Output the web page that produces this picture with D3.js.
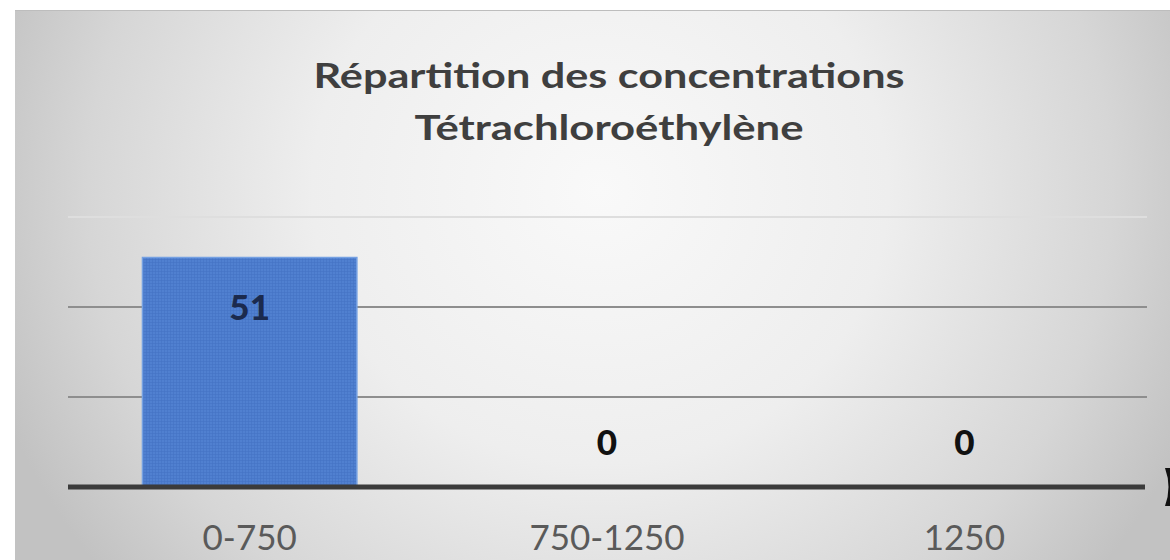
<!DOCTYPE html>
<html>
<head>
<meta charset="utf-8">
<script src="https://cdn.jsdelivr.net/npm/d3@7"></script>
<style>
  body { margin: 0; background: #fff; }
  svg { display: block; }
</style>
</head>
<body>
<div id="chart"></div>
<script>
// data
var categories = ["0-750", "750-1250", "1250"];
var counts = [51, 0, 0];
var gridTicks = [0, 20, 40, 60];
var titleLines = ["Répartition des concentrations", "Tétrachloroéthylène"];

var W = 1170, H = 560;
var margin = {top: 217, right: 27, bottom: 73, left: 71},
    width = W - margin.left - margin.right,
    height = H - margin.top - margin.bottom;

var svg = d3.select("#chart")
    .append("svg")
    .attr("width", W)
    .attr("height", H);

var defs = svg.append("defs");

// background gradient (light in the upper middle, grey to the sides)
var bg = defs.append("radialGradient")
    .attr("id", "bg")
    .attr("gradientUnits", "userSpaceOnUse")
    .attr("cx", 600).attr("cy", 190).attr("r", 640)
    .attr("gradientTransform", "translate(600,190) scale(1,0.95) translate(-600,-190)");
bg.append("stop").attr("offset", "0%").attr("stop-color", "#f9f9f9");
bg.append("stop").attr("offset", "45%").attr("stop-color", "#eeeeee");
bg.append("stop").attr("offset", "80%").attr("stop-color", "#d6d6d6");
bg.append("stop").attr("offset", "100%").attr("stop-color", "#c2c2c2");

// fine grid texture on the bar
var pat = defs.append("pattern")
    .attr("id", "barTex")
    .attr("patternUnits", "userSpaceOnUse")
    .attr("width", 3).attr("height", 3);
pat.append("rect").attr("width", 3).attr("height", 3).attr("fill", "#5080d0");
pat.append("rect").attr("width", 3).attr("height", 1).attr("fill", "#4473c4").attr("opacity", 0.6);
pat.append("rect").attr("width", 1).attr("height", 3).attr("fill", "#4473c4").attr("opacity", 0.6);

svg.append("rect")
    .attr("x", 15).attr("y", 10)
    .attr("width", W - 15).attr("height", H - 10)
    .attr("fill", "url(#bg)");
svg.append("line")
    .attr("x1", 15).attr("x2", W).attr("y1", 10.5).attr("y2", 10.5)
    .attr("stroke", "#bdbdbd").attr("stroke-width", 1);

// title
svg.append("g")
    .selectAll("text")
    .data(titleLines)
    .enter()
    .append("text")
    .attr("x", 609)
    .attr("y", function (d, i) { return 88 + i * 52; })
    .attr("text-anchor", "middle")
    .attr("textLength", function (d, i) { return i === 0 ? 591 : 389; })
    .attr("lengthAdjust", "spacingAndGlyphs")
    .style("font-family", "Lato, 'Open Sans', sans-serif")
    .style("font-weight", "bold")
    .style("font-size", "35px")
    .style("fill", "#3f3f3f")
    .text(function (d) { return d; });

var g = svg.append("g")
    .attr("transform", "translate(" + margin.left + "," + margin.top + ")");

var x = d3.scaleBand()
    .domain(categories)
    .range([0, width])
    .paddingInner(0.4)
    .paddingOuter(0.2);

var y = d3.scaleLinear()
    .domain([0, 60])
    .range([height, 0]);

// gridlines
g.append("g")
    .selectAll("line")
    .data(gridTicks.filter(function (t) { return t > 0; }))
    .enter()
    .append("line")
    .attr("x1", -3)
    .attr("x2", width + 4)
    .attr("y1", function (d) { return y(d); })
    .attr("y2", function (d) { return y(d); })
    .attr("stroke", function (d) { return d === 60 ? "#dedede" : "#8e8e8e"; })
    .attr("stroke-width", 2);

// bars
g.append("g")
    .selectAll("rect")
    .data(counts)
    .enter()
    .append("rect")
    .attr("x", function (d, i) { return x(categories[i]); })
    .attr("y", function (d) { return y(d); })
    .attr("width", x.bandwidth())
    .attr("height", function (d) { return height - y(d); })
    .attr("fill", "url(#barTex)")
    .attr("stroke", "#74a0e2")
    .attr("stroke-width", 1.5);

// baseline axis
var xAxis = g.append("g")
    .attr("transform", "translate(0," + height + ")")
    .call(d3.axisBottom(x).tickSize(0).tickPadding(38));
xAxis.select(".domain")
    .attr("d", "M-3,0H" + (width + 2))
    .attr("stroke", "#3b3b3b")
    .attr("stroke-width", 5);
xAxis.selectAll("text")
    .style("font-family", "Lato, 'Open Sans', sans-serif")
    .style("font-size", "35px")
    .style("fill", "#5a5a5a");

// value labels
g.append("g")
    .selectAll("text")
    .data(counts)
    .enter()
    .append("text")
    .attr("x", function (d, i) { return x(categories[i]) + x.bandwidth() / 2; })
    .attr("y", function (d) { return d > 0 ? y(d) + 62 : y(d) - 32; })
    .attr("text-anchor", "middle")
    .style("font-family", "Lato, 'Open Sans', sans-serif")
    .style("font-weight", "900")
    .style("font-size", "35px")
    .style("fill", function (d) { return d > 0 ? "#1b2a4e" : "#111111"; })
    .text(function (d) { return d; });

// stray dark mark at the right edge of the photo
svg.append("path")
    .attr("d", "M1165,468 Q1172,487 1165,506 L1170,506 L1170,468 Z")
    .attr("fill", "#111");
</script>
</body>
</html>
